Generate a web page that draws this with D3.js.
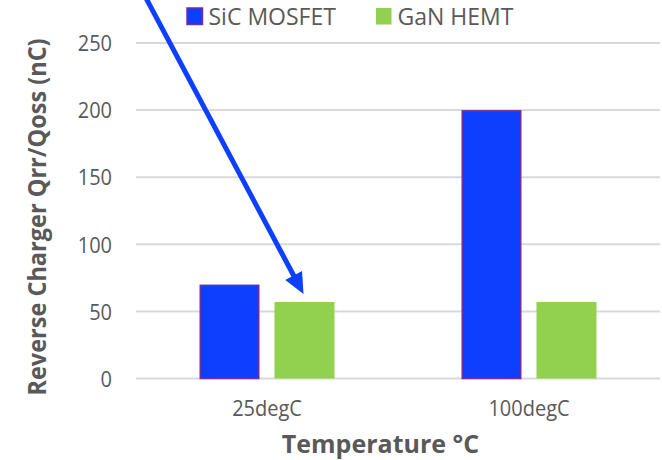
<!DOCTYPE html>
<html>
<head>
<meta charset="utf-8">
<script src="https://cdn.jsdelivr.net/npm/d3@7"></script>
<style>
  html, body { margin: 0; padding: 0; background: #ffffff; }
  svg { display: block; }
  text { font-family: "Open Sans", "Noto Sans", sans-serif; fill: #595959; }
</style>
</head>
<body>
<svg id="chart" width="662" height="460"></svg>
<script>
// Reverse recovery charge by junction temperature
const categories = ["25degC", "100degC"];
const seriesNames = ["SiC MOSFET", "GaN HEMT"];
const sicValues = [70, 200];
const ganValues = [57, 57];
const yTicks = [0, 50, 100, 150, 200, 250];

const colors = { "SiC MOSFET": "#0D3FFF", "GaN HEMT": "#92D050" };
const strokes = { "SiC MOSFET": "#7030A0", "GaN HEMT": "none" };

// Narrow the glyphs a little so the text keeps a tall, compact look
function condense(sel, k = 1.08) {
  sel.each(function () {
    const len = this.getComputedTextLength();
    d3.select(this)
      .attr("textLength", len / k)
      .attr("lengthAdjust", "spacingAndGlyphs");
  });
}

const rows = categories.map((c, i) => ({
  category: c,
  values: [
    { series: "SiC MOSFET", value: sicValues[i] },
    { series: "GaN HEMT", value: ganValues[i] }
  ]
}));

const svg = d3.select("#chart");
const plot = { left: 136, right: 660, top: 43, bottom: 378.5 };

const x0 = d3.scaleBand()
  .domain(categories)
  .range([plot.left, plot.right])
  .paddingInner(0.4847)
  .paddingOuter(0.2424);

const x1 = d3.scaleBand()
  .domain(seriesNames)
  .range([0, x0.bandwidth()])
  .paddingInner(0.2)
  .paddingOuter(0);

const y = d3.scaleLinear()
  .domain([0, 250])
  .range([plot.bottom, plot.top]);

// Horizontal gridlines
svg.append("g")
  .selectAll("line")
  .data(yTicks)
  .join("line")
  .attr("x1", plot.left)
  .attr("x2", plot.right)
  .attr("y1", d => y(d))
  .attr("y2", d => y(d))
  .attr("stroke", "#d9d9d9")
  .attr("stroke-width", 2);

// Y tick labels
const yAxis = d3.axisLeft(y).tickValues(yTicks).tickSize(0).tickPadding(0);
const yg = svg.append("g")
  .attr("transform", `translate(${plot.left - 24},0)`)
  .call(yAxis);
yg.select(".domain").remove();
yg.selectAll("text")
  .attr("font-size", 21.6)
  .attr("fill", "#595959")
  .style("font-family", "'Open Sans', sans-serif")
  .attr("dy", "0.36em")
  .call(condense);

// X category labels
const xAxis = d3.axisBottom(x0).tickSize(0).tickPadding(0);
const xg = svg.append("g")
  .attr("transform", `translate(0,${plot.bottom + 30})`)
  .call(xAxis);
xg.select(".domain").remove();
xg.selectAll("text")
  .attr("font-size", 21.6)
  .attr("fill", "#595959")
  .style("font-family", "'Open Sans', sans-serif")
  .attr("dy", "0.36em")
  .call(condense);

// Bars
const groups = svg.append("g")
  .selectAll("g")
  .data(rows)
  .join("g")
  .attr("transform", d => `translate(${x0(d.category)},0)`);

groups.selectAll("rect")
  .data(d => d.values)
  .join("rect")
  .attr("x", d => x1(d.series) + (strokes[d.series] === "none" ? 0 : 0.75))
  .attr("y", d => y(d.value) + (strokes[d.series] === "none" ? 0 : 0.75))
  .attr("width", d => x1.bandwidth() - (strokes[d.series] === "none" ? 0 : 1.5))
  .attr("height", d => y(0) - y(d.value) - (strokes[d.series] === "none" ? 0 : 0.75))
  .attr("fill", d => colors[d.series])
  .attr("stroke", d => strokes[d.series])
  .attr("stroke-width", 1.5);

// Legend
const legendPos = [186.5, 375.5];
const legend = svg.append("g")
  .selectAll("g")
  .data(seriesNames)
  .join("g")
  .attr("transform", (d, i) => `translate(${legendPos[i]},7.5)`);
legend.append("rect")
  .attr("x", 0.5).attr("y", 0.5)
  .attr("width", 15.5).attr("height", 16.5)
  .attr("fill", d => colors[d])
  .attr("stroke", d => strokes[d] === "none" ? "none" : strokes[d])
  .attr("stroke-width", 1.5);
legend.append("text")
  .attr("x", 22)
  .attr("y", 17.5)
  .attr("font-size", 23)
  .text(d => d);

// Axis titles
svg.append("text")
  .attr("transform", "translate(46,217) rotate(-90)")
  .attr("text-anchor", "middle")
  .attr("font-size", 25.4)
  .attr("font-weight", "bold")
  .text("Reverse Charger Qrr/Qoss (nC)")
  .call(condense);

svg.append("text")
  .attr("x", 380.5)
  .attr("y", 452.5)
  .attr("text-anchor", "middle")
  .attr("font-size", 25)
  .attr("font-weight", "bold")
  .text("Temperature °C");

// Annotation arrow pointing at the GaN HEMT bar at 25degC
const tipX = x0(categories[0]) + x1("GaN HEMT") + x1.bandwidth() / 2 - 1;
const tipY = y(ganValues[0]) - 8;
const dir = [-0.47, -0.883];
const headLen = 21, headHalf = 9.5;
const baseX = tipX + dir[0] * headLen, baseY = tipY + dir[1] * headLen;
const startX = tipX + dir[0] * 340, startY = tipY + dir[1] * 340;

svg.append("line")
  .attr("x1", startX).attr("y1", startY)
  .attr("x2", baseX - dir[0] * 2).attr("y2", baseY - dir[1] * 2)
  .attr("stroke", "#0D3FFF")
  .attr("stroke-width", 5);

svg.append("path")
  .attr("d", d3.line()([
    [tipX, tipY],
    [baseX - dir[1] * headHalf, baseY + dir[0] * headHalf],
    [baseX + dir[1] * headHalf, baseY - dir[0] * headHalf]
  ]) + "Z")
  .attr("fill", "#0D3FFF");
</script>
</body>
</html>
